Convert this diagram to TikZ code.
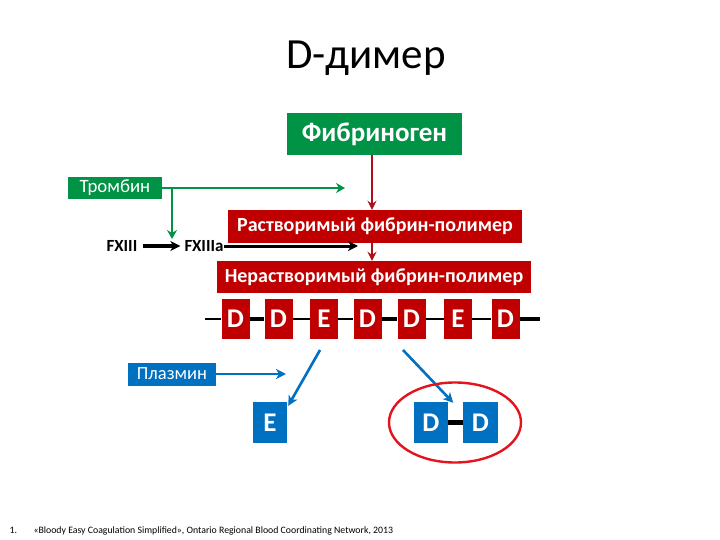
\documentclass[tikz,border=0pt]{standalone}
\usepackage{fontspec}
\setmainfont{Carlito}
\usetikzlibrary{positioning,arrows.meta,shapes.geometric}
\definecolor{fibred}{RGB}{192,0,0}
\definecolor{arrred}{RGB}{175,15,25}
\definecolor{thrgreen}{RGB}{0,146,69}
\definecolor{plblue}{RGB}{0,112,192}
\definecolor{ringred}{RGB}{228,20,30}
\tikzset{
  fsz/.style={font=\fontsize{#1}{#1}\selectfont},
  greenbox/.style={fill=thrgreen,text=white,inner sep=0pt},
  redbox/.style={fill=fibred,text=white,inner sep=0pt,font=\bfseries\fontsize{20}{20}\selectfont},
  unitbox/.style={inner sep=0pt,text=white,minimum width=28pt,minimum height=40pt,
    font=\bfseries\fontsize{27}{27}\selectfont},
  bluebox/.style={fill=plblue,text=white,inner sep=0pt},
  redarr/.style={-{Stealth[length=9pt,width=9pt,inset=3pt]},line width=1.8pt,arrred},
  grnarr/.style={-{Stealth[length=9pt,width=10pt,inset=3pt]},line width=1.8pt,thrgreen},
  blkarr/.style={-{Stealth[length=10pt,width=10pt,inset=3pt]},line width=3pt,black},
  bluarr/.style={-{Stealth[length=10pt,width=10pt,inset=3pt]},line width=2.6pt,plblue},
  bondthin/.style={line width=1.6pt,black},
  bondthick/.style={line width=4.5pt,black},
  factor/.style={inner sep=0pt,font=\bfseries\fontsize{17}{17}\selectfont},
}
\begin{document}
\begin{tikzpicture}[x=1pt,y=-1pt]
  \useasboundingbox[fill=white] (0,0) rectangle (720,540);
  % title
  \node[fsz=43,anchor=base] (title) at (366,68.5) {D-димер};
  % clotting cascade
  \node[greenbox,minimum width=175pt,minimum height=42pt,font=\bfseries\fontsize{27}{27}\selectfont]
    (fib) at (374.5,134) {Фибриноген};
  \node[greenbox,minimum width=94pt,minimum height=22pt,fsz=18.8] (thr) at (115,188) {Тромбин};
  \node[redbox,minimum width=294pt,minimum height=33pt] (sol) at (375,226.5) {Растворимый фибрин-полимер};
  \node[redbox,minimum width=314pt,minimum height=32pt] (insol) at (374,277) {Нерастворимый фибрин-полимер};
  \node[factor] (fxiii) at (122,246) {FXIII};
  \node[factor] (fxiiia) at (204,246) {FXIIIa};
  \coordinate (thrend) at (345,188);
  \coordinate (thrbr) at (172,188);
  \coordinate (thrdn) at (172,239);
  \coordinate (fxend) at (358,246);
  \draw[redarr] (fib.south -| 372,0) -- (sol.north -| 372,0);
  \draw[redarr] (sol.south -| 372,0) -- (insol.north -| 372,0);
  \draw[grnarr] (thr.east) -- (thrend);
  \draw[grnarr] (thrbr) -- (thrdn);
  \draw[blkarr,line width=3.4pt] ([xshift=6pt]fxiii.east) -- ([xshift=-4pt]fxiiia.west);
  \draw[blkarr] (fxiiia.east) -- (fxend);
  % cross-linked chain of D and E domains
  \foreach \nm/\xx/\lab in {d1/235.5/D, d2/278.5/D, e1/324/E, d3/367.5/D,
      d4/411.5/D, e2/458/E, d5/505.5/D}{
    \node[unitbox,fill=fibred] (\nm) at (\xx,319) {\lab};
  }
  \coordinate (chl) at (205,319);
  \coordinate (chr) at (540,319);
  \foreach \a/\b/\w in {chl/d1/thin, d1/d2/thick, d2/e1/thin, e1/d3/thin,
      d3/d4/thick, d4/e2/thin, e2/d5/thin, d5/chr/thick}{
    \draw[bond\w] (\a) -- (\b);
  }
  % plasmin cleavage
  \node[bluebox,minimum width=88pt,minimum height=23pt,fsz=18.5] (plas) at (172,374) {Плазмин};
  \coordinate (plend) at (286,374);
  \coordinate (cutl) at (320,350);
  \coordinate (cutr) at (403,350);
  \node[unitbox,fill=plblue,minimum width=34pt,minimum height=41pt] (efrag) at (270,422.5) {E};
  \node[unitbox,fill=plblue,minimum width=34pt,minimum height=41pt] (dd1) at (431,422.5) {D};
  \node[unitbox,fill=plblue,minimum width=35pt,minimum height=41pt] (dd2) at (480.5,422.5) {D};
  \draw[bondthick] (dd1) -- (dd2);
  \draw[bluarr] (plas.east) -- (plend);
  \draw[bluarr] (cutl) -- ([shift={(1pt,-4pt)}]efrag.north east);
  \draw[bluarr] (cutr) -- ([shift={(5pt,-1pt)}]dd1.north east);
  \draw[ringred,line width=2.4pt] (455,422.5) ellipse [x radius=66, y radius=40];
  % footnote
  \node[fsz=9.8,anchor=base west] (fnnum) at (6,533) {1.};
  \node[fsz=9.8,anchor=base west] (fn) at (30,533)
    {«Bloody Easy Coagulation Simplified», Ontario Regional Blood Coordinating Network, 2013};
\end{tikzpicture}
\end{document}
